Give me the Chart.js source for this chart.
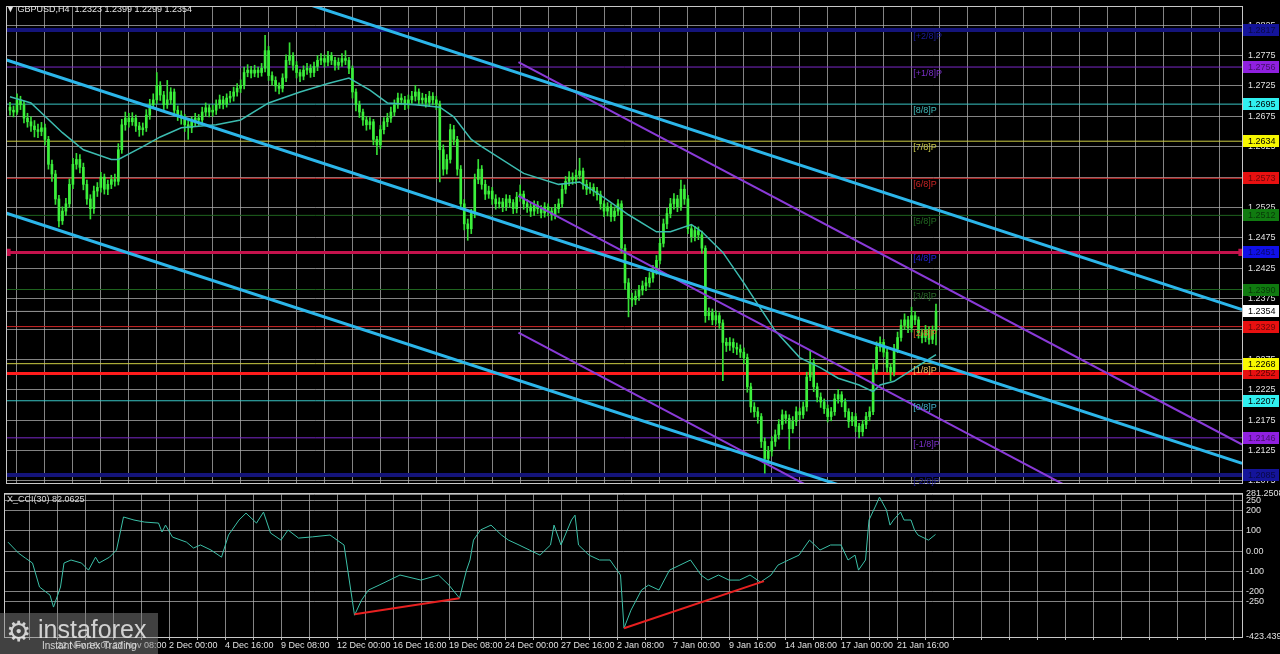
<!DOCTYPE html>
<html>
<head>
<meta charset="utf-8">
<script src="https://cdn.jsdelivr.net/npm/chart.js@4.4.1/dist/chart.umd.min.js"></script>
<style>
  html, body { margin: 0; padding: 0; background: #000; width: 1280px; height: 654px; overflow: hidden; }
  #priceWrap { position: absolute; left: 0; top: 0; width: 1280px; height: 490px; }
  #cciWrap { position: absolute; left: 0; top: 490px; width: 1280px; height: 164px; }
  #logo { position: absolute; left: 0; top: 613px; width: 158px; height: 41px; background: rgba(130,130,130,0.5); font-family: "Liberation Sans", sans-serif; color: rgba(235,235,235,0.85); }
  #logo .gear { position: absolute; left: 6px; top: 2px; font-family: "DejaVu Sans"; font-size: 28px; }
  #logo .big { position: absolute; left: 38px; top: 2px; font-size: 25px; }
  #logo .small { position: absolute; left: 42px; top: 27px; font-size: 10px; }
</style>
</head>
<body>
<div id="priceWrap"><canvas id="price"></canvas></div>
<div id="cciWrap"><canvas id="cci"></canvas></div>
<div id="logo"><span class="gear">⚙</span><span class="big">instaforex</span><span class="small">Instant Forex Trading</span></div>
<script>
// ---- data (H4 bars, first bar index = firstBar) ----
const firstBar = 2;
const firstOpen = 1.2690;
const closes = [
  1.2685,1.2682,1.2702,1.2694,1.2672,1.2666,1.2659,1.2653,
  1.2650,1.2656,1.2637,1.2596,1.2580,1.2539,1.2503,1.2519,1.2531,1.2563,
  1.2596,1.2604,1.2591,1.2563,1.2539,1.2523,1.2552,1.2558,1.2575,1.2555,
  1.2563,1.2571,1.2568,1.2620,1.2661,1.2672,1.2666,1.2672,1.2659,1.2653,
  1.2656,1.2677,1.2694,1.2702,1.2726,1.2710,1.2694,1.2702,1.2715,1.2685,
  1.2677,1.2672,1.2661,1.2656,1.2666,1.2672,1.2669,1.2682,1.2689,1.2682,
  1.2685,1.2694,1.2702,1.2695,1.2705,1.2708,1.2715,1.2721,1.2726,1.2747,
  1.2751,1.2746,1.2751,1.2747,1.2754,1.2783,1.2742,1.2734,1.2725,1.2721,
  1.2738,1.2767,1.2775,1.2759,1.2747,1.2741,1.2751,1.2754,1.2747,1.2757,
  1.2767,1.2770,1.2764,1.2775,1.2767,1.2759,1.2764,1.2770,1.2767,1.2754,
  1.2715,1.2694,1.2682,1.2669,1.2661,1.2666,1.2637,1.2628,1.2653,1.2666,
  1.2672,1.2682,1.2694,1.2705,1.2702,1.2694,1.2702,1.2708,1.2715,1.2702,
  1.2705,1.2698,1.2708,1.2702,1.2695,1.2620,1.2588,1.2604,1.2653,1.2637,
  1.2588,1.2531,1.2498,1.2490,1.2515,1.2571,1.2588,1.2563,1.2547,1.2552,
  1.2539,1.2531,1.2534,1.2526,1.2539,1.2533,1.2523,1.2542,1.2547,1.2531,
  1.2526,1.2519,1.2529,1.2523,1.2516,1.2526,1.2519,1.2513,1.2523,1.2531,
  1.2555,1.2568,1.2575,1.2571,1.2578,1.2585,1.2563,1.2555,1.2558,1.2552,
  1.2546,1.2531,1.2519,1.2526,1.2510,1.2519,1.2531,1.2458,1.2401,1.2376,
  1.2373,1.2379,1.2389,1.2396,1.2401,1.2409,1.2422,1.2438,1.2466,1.2498,
  1.2515,1.2531,1.2539,1.2526,1.2555,1.2539,1.2490,1.2477,1.2487,1.2480,
  1.2458,1.2347,1.2352,1.2340,1.2347,1.2335,1.2303,1.2298,1.2303,1.2295,
  1.2292,1.2287,1.2278,1.2230,1.2197,1.2189,1.2181,1.2140,1.2112,1.2124,
  1.2140,1.2151,1.2168,1.2184,1.2178,1.2161,1.2173,1.2189,1.2184,1.2197,
  1.2246,1.2270,1.2230,1.2213,1.2205,1.2194,1.2181,1.2189,1.2210,1.2217,
  1.2205,1.2189,1.2173,1.2181,1.2165,1.2156,1.2168,1.2181,1.2189,1.2259,
  1.2295,1.2303,1.2287,1.2262,1.2254,1.2292,1.2311,1.2331,1.2340,1.2327,
  1.2347,1.2340,1.2319,1.2311,1.2324,1.2308,1.2323,1.2354
];
const highs = [
  1.2698,1.2692,1.2712,1.2708,1.2700,1.2680,1.2674,1.2668,
  1.2662,1.2665,1.2662,1.2642,1.2603,1.2586,1.2545,1.2526,1.2540,1.2572,
  1.2606,1.2614,1.2612,1.2598,1.2570,1.2546,1.2560,1.2566,1.2583,1.2580,
  1.2570,1.2578,1.2580,1.2630,1.2670,1.2682,1.2680,1.2681,1.2677,1.2665,
  1.2664,1.2686,1.2703,1.2712,1.2747,1.2732,1.2716,1.2734,1.2722,1.2720,
  1.2692,1.2684,1.2678,1.2668,1.2674,1.2680,1.2678,1.2690,1.2697,1.2694,
  1.2693,1.2702,1.2710,1.2708,1.2712,1.2716,1.2723,1.2729,1.2735,1.2756,
  1.2760,1.2757,1.2759,1.2756,1.2762,1.2808,1.2790,1.2748,1.2740,1.2730,
  1.2745,1.2776,1.2796,1.2780,1.2765,1.2752,1.2758,1.2762,1.2760,1.2764,
  1.2775,1.2778,1.2776,1.2782,1.2780,1.2772,1.2771,1.2778,1.2783,1.2772,
  1.2758,1.2720,1.2700,1.2687,1.2675,1.2673,1.2670,1.2642,1.2660,1.2673,
  1.2680,1.2690,1.2702,1.2713,1.2712,1.2708,1.2710,1.2716,1.2726,1.2720,
  1.2713,1.2711,1.2716,1.2714,1.2708,1.2700,1.2628,1.2612,1.2662,1.2660,
  1.2642,1.2594,1.2538,1.2506,1.2522,1.2580,1.2604,1.2594,1.2570,1.2560,
  1.2558,1.2546,1.2541,1.2540,1.2546,1.2545,1.2538,1.2550,1.2562,1.2552,
  1.2538,1.2532,1.2536,1.2535,1.2528,1.2533,1.2531,1.2525,1.2530,1.2539,
  1.2563,1.2576,1.2584,1.2582,1.2587,1.2606,1.2590,1.2570,1.2566,1.2564,
  1.2558,1.2552,1.2536,1.2533,1.2531,1.2526,1.2538,1.2536,1.2464,1.2408,
  1.2384,1.2388,1.2397,1.2404,1.2410,1.2418,1.2430,1.2446,1.2474,1.2506,
  1.2524,1.2540,1.2548,1.2545,1.2570,1.2562,1.2545,1.2496,1.2494,1.2493,
  1.2486,1.2462,1.2360,1.2358,1.2355,1.2352,1.2340,1.2310,1.2311,1.2309,
  1.2302,1.2299,1.2294,1.2284,1.2236,1.2204,1.2196,1.2186,1.2146,1.2132,
  1.2148,1.2159,1.2176,1.2192,1.2190,1.2184,1.2181,1.2197,1.2195,1.2205,
  1.2254,1.2290,1.2276,1.2236,1.2220,1.2210,1.2200,1.2196,1.2218,1.2226,
  1.2222,1.2210,1.2194,1.2188,1.2186,1.2170,1.2175,1.2188,1.2197,1.2268,
  1.2304,1.2312,1.2308,1.2292,1.2268,1.2300,1.2320,1.2340,1.2350,1.2346,
  1.2361,1.2354,1.2345,1.2325,1.2331,1.2329,1.2330,1.2366
];
const lows = [
  1.2677,1.2674,1.2678,1.2686,1.2664,1.2657,1.2650,1.2641,
  1.2640,1.2643,1.2628,1.2588,1.2568,1.2530,1.2493,1.2497,1.2512,1.2525,
  1.2556,1.2588,1.2582,1.2554,1.2530,1.2506,1.2515,1.2543,1.2550,1.2547,
  1.2546,1.2556,1.2560,1.2562,1.2614,1.2652,1.2657,1.2660,1.2650,1.2642,
  1.2644,1.2650,1.2670,1.2688,1.2696,1.2701,1.2686,1.2688,1.2695,1.2676,
  1.2668,1.2662,1.2650,1.2637,1.2648,1.2658,1.2660,1.2662,1.2675,1.2674,
  1.2675,1.2678,1.2688,1.2687,1.2690,1.2698,1.2700,1.2708,1.2714,1.2720,
  1.2740,1.2738,1.2740,1.2739,1.2741,1.2748,1.2734,1.2726,1.2716,1.2712,
  1.2715,1.2732,1.2760,1.2751,1.2738,1.2732,1.2735,1.2744,1.2739,1.2740,
  1.2750,1.2760,1.2756,1.2758,1.2760,1.2751,1.2752,1.2757,1.2760,1.2745,
  1.2705,1.2684,1.2673,1.2660,1.2652,1.2654,1.2628,1.2612,1.2622,1.2646,
  1.2658,1.2665,1.2676,1.2688,1.2694,1.2686,1.2688,1.2696,1.2700,1.2694,
  1.2695,1.2690,1.2691,1.2694,1.2686,1.2567,1.2578,1.2580,1.2598,1.2628,
  1.2578,1.2522,1.2488,1.2471,1.2482,1.2508,1.2564,1.2555,1.2538,1.2540,
  1.2530,1.2522,1.2524,1.2518,1.2520,1.2525,1.2515,1.2516,1.2535,1.2522,
  1.2517,1.2510,1.2512,1.2515,1.2508,1.2509,1.2511,1.2504,1.2506,1.2516,
  1.2525,1.2548,1.2561,1.2563,1.2564,1.2572,1.2555,1.2546,1.2548,1.2544,
  1.2537,1.2522,1.2510,1.2511,1.2502,1.2503,1.2512,1.2450,1.2390,1.2345,
  1.2362,1.2365,1.2372,1.2381,1.2388,1.2394,1.2402,1.2415,1.2432,1.2460,
  1.2490,1.2508,1.2522,1.2518,1.2520,1.2530,1.2482,1.2468,1.2470,1.2472,
  1.2450,1.2336,1.2340,1.2332,1.2333,1.2326,1.2240,1.2288,1.2290,1.2286,
  1.2283,1.2278,1.2268,1.2221,1.2188,1.2180,1.2170,1.2130,1.2088,1.2104,
  1.2116,1.2132,1.2144,1.2160,1.2170,1.2127,1.2154,1.2166,1.2176,1.2178,
  1.2190,1.2240,1.2222,1.2205,1.2196,1.2186,1.2172,1.2174,1.2183,1.2203,
  1.2197,1.2180,1.2163,1.2166,1.2156,1.2146,1.2149,1.2161,1.2174,1.2184,
  1.2252,1.2288,1.2279,1.2254,1.2240,1.2248,1.2286,1.2305,1.2324,1.2319,
  1.2320,1.2332,1.2310,1.2302,1.2304,1.2300,1.2301,1.2299
];

// moving average
const maIdx = [2,8,17,23,31,33,40,45,51,61,68,76,85,93,99,105,110,118,125,129,134,137,149,159,165,172,179,187,191,197,200,206,212,217,221,228,234,239,245,249,251,255,261,267];
const maVals = [1.2707,1.2697,1.2648,1.2620,1.2604,1.2604,1.2625,1.2641,1.2656,1.2661,
  1.2669,1.2697,1.2715,1.2729,1.2738,1.2718,1.2697,1.2694,1.2690,1.2674,
  1.2637,1.2625,1.2581,1.2563,1.2567,1.2541,1.2513,1.2485,1.2485,1.2497,
  1.2485,1.2451,1.2401,1.2357,1.2322,1.2278,1.2261,1.2244,1.2233,1.2222,
  1.2233,1.2239,1.2261,1.2283];

// CCI(30)
const cciIdx = [2,5,7,9,11,14,15,17,18,20,23,25,27,28,31,33,35,38,41,45,46,47,49,53,55,57,60,63,65,68,
  70,73,75,77,80,82,85,89,94,98,101,103,105,108,114,120,125,128,131,133,134,135,137,140,143,145,148,151,154,157,
  158,160,163,164,165,168,171,174,177,178,180,183,185,188,191,194,197,200,202,205,208,211,214,217,220,222,225,228,230,231,
  234,237,240,242,244,245,247,248,250,251,253,254,255,257,258,260,261,262,265,267];
const cciVals = [44,-10,-35,-59,-177,-217,-276,-177,-59,-44,-59,-94,-30,-59,-30,5,168,153,143,138,94,128,69,44,15,30,5,-30,79,153,
  187,138,192,89,54,104,64,70,79,30,-316,-242,-192,-168,-118,-143,-118,-168,-232,-94,-44,54,104,128,79,54,30,5,-20,30,
  128,30,153,177,30,-20,-44,-44,-118,-380,-291,-192,-168,-192,-94,-69,-44,-118,-143,-118,-143,-143,-118,-153,-118,-69,-44,-20,30,54,
  5,30,30,-44,-20,-94,-44,153,227,266,202,128,153,192,153,153,104,79,54,82];
const cciLast = '82.0625';
const diverg1Idx = [101, 131], diverg1Vals = [-311, -232];
const diverg2Idx = [178, 218], diverg2Vals = [-380, -148];

// Murrey math levels
const murreyNames = ['[+2/8]P','[+1/8]P','[8/8]P','[7/8]P','[6/8]P','[5/8]P','[4/8]P','[3/8]P','[2/8]P','[1/8]P','[0/8]P','[-1/8]P','[-2/8]P'];
const murreyLevels = [1.2817,1.2756,1.2695,1.2634,1.2573,1.2512,1.2451,1.2390,1.2329,1.2268,1.2207,1.2146,1.2085];
const pivotLevel = 1.2451;
const supportLevel = 1.2252;
const lastPrice = 1.2354;

// trend channels (bar index, price) at their two ends
const blueIdx = [-0.3, 354.6];
const blueUpper = [1.3024, 1.2357];
const blueMiddle = [1.2770, 1.2104];
const blueLower = [1.2518, 1.1852];
const purpleIdx = [147.5, 354.6];
const purpleUpper = [1.2764, 1.2135];
const purpleMiddle = [1.2544, 1.1914];
const purpleLower = [1.2319, 1.1689];

// axes
const priceTicks = [1.2075,1.2125,1.2175,1.2225,1.2275,1.2325,1.2375,1.2425,1.2475,1.2525,1.2575,1.2625,1.2675,1.2725,1.2775,1.2825];
const cciTicks = [-423.439,-250,-200,-100,0,100,200,250,281.2508];
const timeIdx = [16,32,48,64,80,96,112,128,144,160,176,192,208,224,240,256];
const timeLabels = ['22 Nov 16:00','27 Nov 08:00','2 Dec 00:00','4 Dec 16:00','9 Dec 08:00','12 Dec 00:00','16 Dec 16:00','19 Dec 08:00',
  '24 Dec 00:00','27 Dec 16:00','2 Jan 08:00','7 Jan 00:00','9 Jan 16:00','14 Jan 08:00','17 Jan 00:00','21 Jan 16:00'];
const title = '\u25BC GBPUSD,H4  1.2323 1.2399 1.2299 1.2354';

// ---- styles ----
const X_MIN = 1.14, X_MAX = 354.57;
const FONT = 'Liberation Sans';
const GRID = 'rgba(175,175,175,0.75)';
const lineColors = ['#14147a','#7a28c8','#38c4c4','#cccc44','#d02828','#1f641f','#2030e0','#1f641f','#d02828','#cccc44','#38c4c4','#7a28c8','#14147a'];
const lineWidths = [4,1,1,1,1,1,1,1,1,1,1,1,4];
const textColors = ['#1c1c9a','#7a30c8','#40b8b8','#c8c848','#c82424','#226a22','#2424d8','#2a6a2a','#e05a28','#f0c060','#40b0c8','#7a30c8','#1c1c9a'];
const boxColors = ['#14149a','#9020e0','#30f0f0','#f8f800','#e81010','#107a10','#1010e8','#107a10','#e81010','#f8f800','#30f0f0','#9020e0','#14149a'];

function pts(idx, vals) { return idx.map((x, k) => ({ x: x, y: vals[k] })); }
function hline(v) { return [{ x: X_MIN, y: v }, { x: X_MAX, y: v }]; }

const opens = closes.map((c, k) => k === 0 ? firstOpen : closes[k - 1]);
const wickData = closes.map((c, k) => ({ x: firstBar + k, y: [lows[k], highs[k]] }));
const bodyData = closes.map((c, k) => ({ x: firstBar + k, y: [opens[k], c] }));

function lineDs(data, color, width, order, extra) {
  return Object.assign({ type: 'line', data: data, borderColor: color, backgroundColor: color, borderWidth: width,
    pointRadius: 0, tension: 0, order: order }, extra || {});
}

const priceDatasets = [];
murreyLevels.forEach((v, k) => priceDatasets.push(lineDs(hline(v), lineColors[k], lineWidths[k], 9)));
priceDatasets.push(lineDs(hline(lastPrice), '#9a9a9a', 1, 8));
priceDatasets.push(lineDs(hline(supportLevel), '#ff1c1c', 3, 7));
priceDatasets.push(lineDs(hline(pivotLevel), '#c4124c', 3, 7, { pointRadius: 3, pointStyle: 'rect' }));
priceDatasets.push({ type: 'bar', data: wickData, backgroundColor: '#35e035', barThickness: 1, grouped: false, order: 5 });
priceDatasets.push({ type: 'bar', data: bodyData, backgroundColor: '#3cf03c', barThickness: 2, minBarLength: 1, grouped: false, order: 4 });
priceDatasets.push(lineDs(pts(maIdx, maVals), '#3cbcb0', 1.5, 3));
[purpleUpper, purpleMiddle, purpleLower].forEach(a => priceDatasets.push(lineDs(pts(purpleIdx, a), '#8a3ad8', 2, 2)));
[blueUpper, blueMiddle, blueLower].forEach(a => priceDatasets.push(lineDs(pts(blueIdx, a), '#2cb6ea', 3, 1)));

function gridTicks(scale) {
  const t = [];
  for (let v = 8; v <= 352; v += 8) t.push({ value: v });
  scale.ticks = t;
}
function fitY(s) { s.width = 38; s.paddingTop = 0; s.paddingBottom = 0; }

const priceDecor = {
  id: 'priceDecor',
  afterDraw(chart) {
    const { ctx, chartArea: a, scales } = chart;
    const y = scales.y, x = scales.x;
    ctx.save();
    ctx.strokeStyle = '#c8c8c8';
    ctx.lineWidth = 1;
    ctx.strokeRect(a.left - 0.5, a.top - 0.5, a.right - a.left + 1, a.bottom - a.top + 1);
    ctx.font = '9px "' + FONT + '"';
    ctx.textBaseline = 'middle';
    ctx.fillStyle = '#e6e6e6';
    ctx.fillText(title, 6, 10);
    // murrey labels
    ctx.textBaseline = 'top';
    const lx = x.getPixelForValue(260.5);
    murreyLevels.forEach((v, k) => {
      ctx.fillStyle = textColors[k];
      ctx.fillText(murreyNames[k], lx, y.getPixelForValue(v) + 2);
    });
    // price boxes on the right axis
    ctx.textBaseline = 'middle';
    const box = (v, bg, fg) => {
      const py = Math.round(y.getPixelForValue(v));
      ctx.fillStyle = bg;
      ctx.fillRect(a.right + 1, py - 6, 36, 12);
      ctx.fillStyle = fg;
      ctx.fillText(v.toFixed(4), a.right + 6, py + 0.5);
    };
    box(supportLevel, '#e81010', '#5a0000');
    murreyLevels.forEach((v, k) => box(v, boxColors[k], (k === 2 || k === 3 || k === 9 || k === 10) ? '#000' : 'rgba(0,0,0,0.55)'));
    box(lastPrice, '#ffffff', '#000');
    ctx.restore();
  }
};

new Chart(document.getElementById('price'), {
  type: 'bar',
  data: { datasets: priceDatasets },
  options: {
    responsive: true, maintainAspectRatio: false, animation: false, events: [],
    layout: { padding: { left: 5, top: 5, right: 0, bottom: 3 } },
    plugins: { legend: { display: false }, tooltip: { enabled: false } },
    scales: {
      x: {
        type: 'linear', min: X_MIN, max: X_MAX, offset: false,
        afterBuildTicks: gridTicks,
        afterFit: s => { s.height = 0; s.paddingLeft = 0; s.paddingRight = 0; },
        ticks: { display: false },
        border: { display: false },
        grid: { color: GRID, borderDash: [3, 3], drawTicks: false, lineWidth: 1 }
      },
      y: {
        position: 'right', min: 1.20717, max: 1.28548,
        afterBuildTicks: s => { s.ticks = priceTicks.map(v => ({ value: v })); },
        afterFit: fitY,
        ticks: { color: '#e0e0e0', font: { family: FONT, size: 9, lineHeight: 1 }, padding: 6, callback: v => v.toFixed(4) },
        border: { display: false },
        grid: { color: GRID, borderDash: [3, 3], drawTicks: false }
      }
    }
  },
  plugins: [priceDecor]
});

const cciDecor = {
  id: 'cciDecor',
  afterDraw(chart) {
    const { ctx, chartArea: a } = chart;
    ctx.save();
    ctx.strokeStyle = '#c8c8c8';
    ctx.lineWidth = 1;
    ctx.strokeRect(a.left - 0.5, a.top - 0.5, a.right - a.left + 1, a.bottom - a.top + 1);
    ctx.font = '9px "' + FONT + '"';
    ctx.textBaseline = 'middle';
    ctx.fillStyle = '#d8d8d8';
    ctx.fillText('X_CCI(30) ' + cciLast, 7, a.top + 6);
    ctx.restore();
  }
};

new Chart(document.getElementById('cci'), {
  type: 'line',
  data: {
    datasets: [
      lineDs(pts(cciIdx, cciVals), '#3cc0a8', 1, 2),
      lineDs(pts(diverg1Idx, diverg1Vals), '#e82020', 2, 1),
      lineDs(pts(diverg2Idx, diverg2Vals), '#e82020', 2, 1)
    ]
  },
  options: {
    responsive: true, maintainAspectRatio: false, animation: false, events: [],
    layout: { padding: { left: 5, top: 4, right: 0, bottom: 0 } },
    plugins: { legend: { display: false }, tooltip: { enabled: false } },
    scales: {
      x: {
        type: 'linear', min: X_MIN, max: X_MAX, offset: false,
        afterBuildTicks: gridTicks,
        afterFit: s => { s.height = 17; s.paddingLeft = 0; s.paddingRight = 0; },
        ticks: {
          color: '#e0e0e0', font: { family: FONT, size: 9, lineHeight: 1 }, padding: 1, align: 'start',
          autoSkip: false, maxRotation: 0,
          callback: v => { const k = timeIdx.indexOf(v); return k >= 0 ? timeLabels[k] : ''; }
        },
        border: { display: false },
        grid: { color: GRID, borderDash: [3, 3], drawTicks: true, tickLength: 3, tickColor: '#bbbbbb' }
      },
      y: {
        position: 'right', min: -423.439, max: 281.2508,
        afterBuildTicks: s => { s.ticks = cciTicks.map(v => ({ value: v })); },
        afterFit: fitY,
        ticks: {
          color: '#e0e0e0', font: { family: FONT, size: 9, lineHeight: 1 }, padding: 4,
          callback: v => v === 0 ? '0.00' : String(v)
        },
        border: { display: false },
        grid: { color: GRID, borderDash: [3, 3], drawTicks: false }
      }
    }
  },
  plugins: [cciDecor]
});
</script>
</body>
</html>
